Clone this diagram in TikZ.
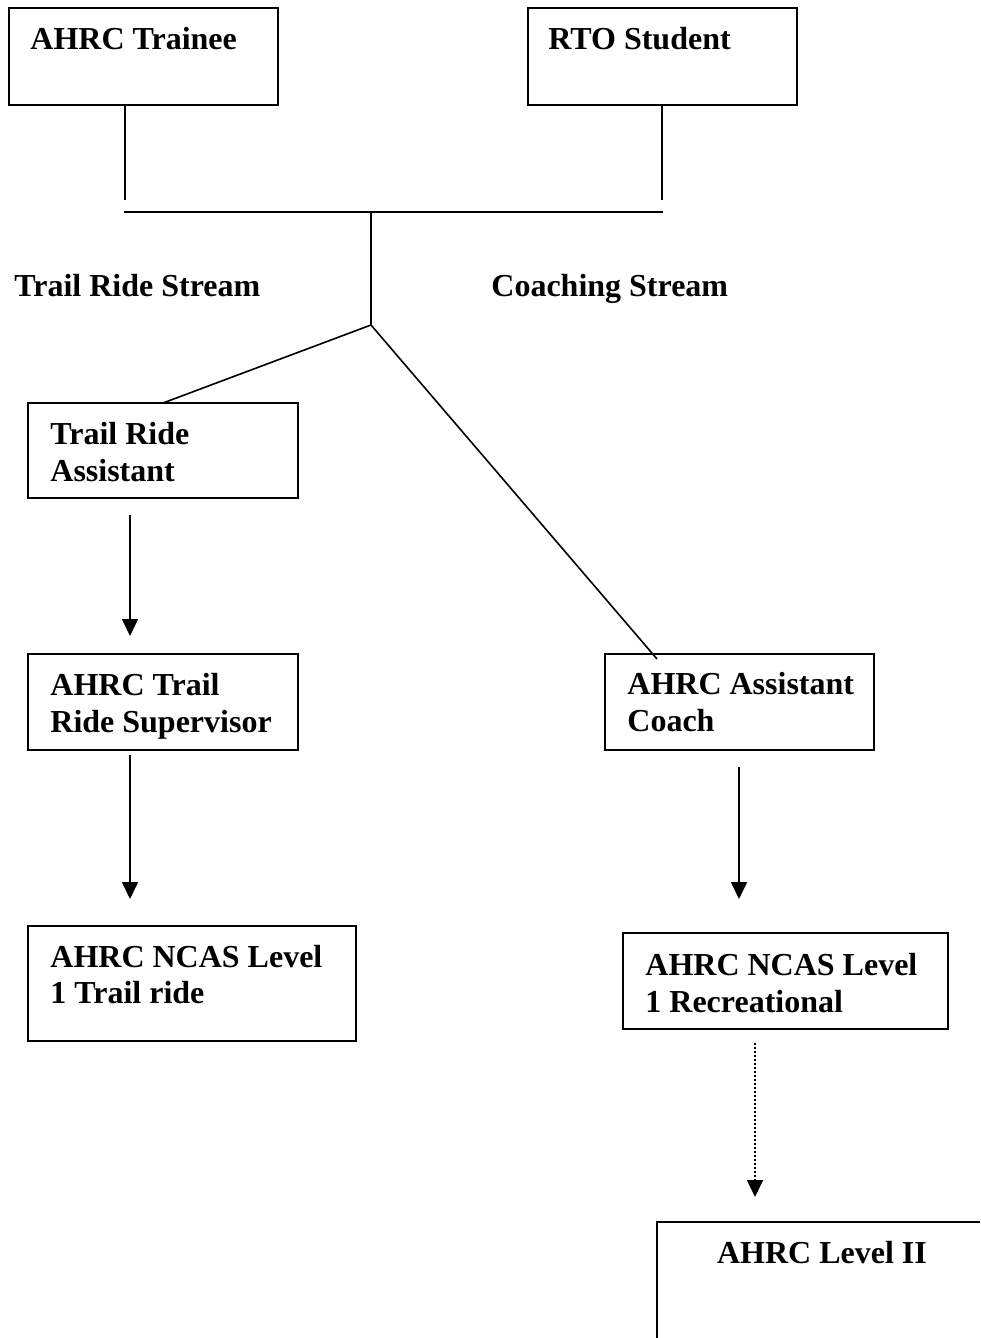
\documentclass[tikz,border=0pt]{standalone}
\usepackage{fontspec}
\setmainfont{Liberation Serif}
\usetikzlibrary{arrows.meta}
\begin{document}
\begin{tikzpicture}[x=0.5pt,y=-0.5pt,
  box/.style={draw, line width=1pt, rectangle, anchor=north west, inner sep=0pt, outer sep=0pt},
  lbl/.style={anchor=base west, inner sep=0pt, font=\fontsize{16}{18}\selectfont\bfseries},
  clbl/.style={lbl, anchor=base},
  conn/.style={line width=0.8pt},
  arr/.style={line width=0.8pt, -{Triangle[width=8pt,length=8.5pt]}},
  dotarr/.style={arr, dash pattern=on 1pt off 1pt}]
\useasboundingbox (0,0) rectangle (980,1338);
\clip (0,0) rectangle (980,1338);
\fill[white] (0,0) rectangle (980,1338);

% boxes
\node[box, minimum width=134.5pt, minimum height=48.5pt] (trainee) at (9,8) {};
\node[box, minimum width=134.5pt, minimum height=48.5pt] (rto) at (528,8) {};
\node[box, minimum width=135pt, minimum height=47.5pt] (tra) at (28,403) {};
\node[box, minimum width=135pt, minimum height=48pt] (sup) at (28,654) {};
\node[box, minimum width=164pt, minimum height=57.5pt] (ncast) at (28,926) {};
\node[box, minimum width=134.5pt, minimum height=48pt] (ac) at (605,654) {};
\node[box, minimum width=162.5pt, minimum height=48pt] (ncasr) at (623,933) {};
\node[box, minimum width=165pt, minimum height=100pt] (lii) at (657,1222) {};

% texts
\node[lbl] (t1) at (30,50) {AHRC Trainee};
\node[lbl] (t2) at (548,50) {RTO Student};
\node[lbl] (s1) at (14,296) {Trail Ride Stream};
\node[lbl] (s2) at (491,296) {Coaching Stream};
\node[lbl] (t3a) at (50,444) {Trail Ride};
\node[lbl] (t3b) at (50,481) {Assistant};
\node[lbl] (t4a) at (50,695) {AHRC Trail};
\node[lbl] (t4b) at (50,732) {Ride Supervisor};
\node[lbl] (t5a) at (50,967) {AHRC NCAS Level};
\node[lbl] (t5b) at (50,1003) {1 Trail ride};
\node[lbl] (t6a) at (627,694) {AHRC Assistant};
\node[lbl] (t6b) at (627,731) {Coach};
\node[lbl] (t7a) at (645,975) {AHRC NCAS Level};
\node[lbl] (t7b) at (645,1012) {1 Recreational};
\node[clbl] (t8) at (822,1263) {AHRC Level II};

% tree connectors
\coordinate (j1) at (125,200);
\coordinate (j2) at (662,200);
\coordinate (hl) at (124,212);
\coordinate (hr) at (663,212);
\coordinate (hm) at (371,212);
\coordinate (fork) at (371,325);
\coordinate (acin) at (657,659);
\draw[conn] (trainee.south -| j1) -- (j1);
\draw[conn] (rto.south -| j2) -- (j2);
\draw[conn] (hl) -- (hr);
\draw[conn] (hm) -- (fork);
\draw[conn] (fork) -- (tra.north);
\draw[conn] (fork) -- (acin);

% arrows
\coordinate (a1s) at (130,515); \coordinate (a1e) at (130,636);
\coordinate (a2s) at (130,755); \coordinate (a2e) at (130,899);
\coordinate (a3s) at (739,767); \coordinate (a3e) at (739,899);
\coordinate (a4s) at (755,1043); \coordinate (a4e) at (755,1197);
\draw[arr] (a1s) -- (a1e);
\draw[arr] (a2s) -- (a2e);
\draw[arr] (a3s) -- (a3e);
\draw[dotarr] (a4s) -- (a4e);
\end{tikzpicture}
\end{document}
